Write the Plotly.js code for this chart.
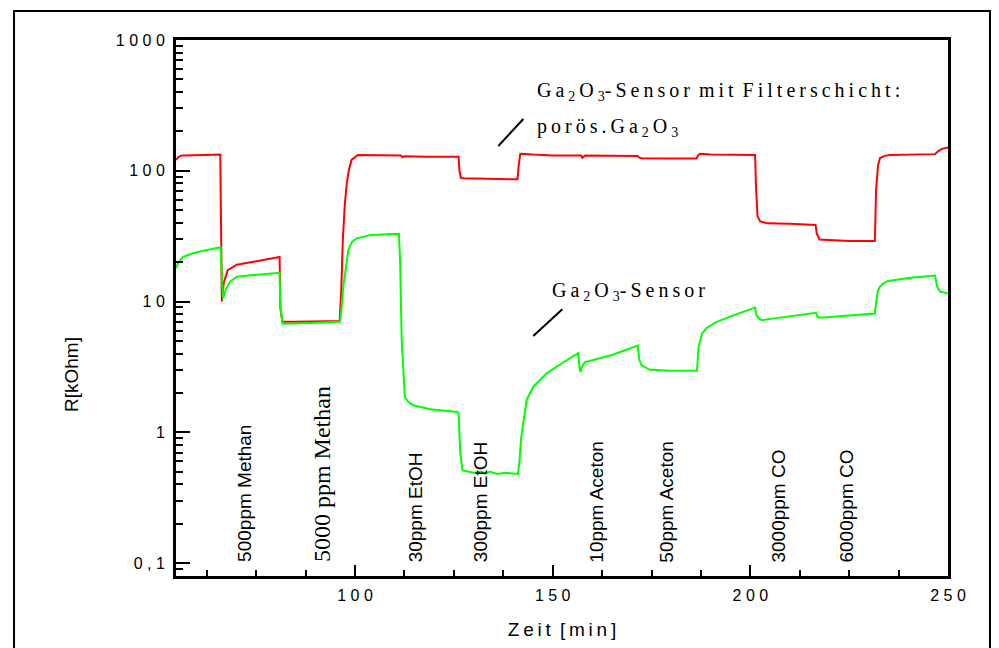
<!DOCTYPE html>
<html>
<head>
<meta charset="utf-8">
<script src="https://cdn.plot.ly/plotly-3.0.1.min.js"></script>
<style>html,body{margin:0;padding:0;background:#fff;}#chart{width:999px;height:648px;}</style>
</head>
<body>
<div id="chart"></div>
<script>
// Ga2O3 sensor with porous Ga2O3 filter layer (red)
const timeFilter = [54.7,55.3,56.2,58,62,65.9,66.1,66.3,66.8,67.8,70.1,75,80.9,81.1,81.6,85,90,96.1,96.5,96.9,97.4,97.9,98.4,99.1,100.7,105,111.6,112.0,112.4,118,126.2,126.4,126.8,127.5,134,141.1,141.4,141.8,145,150,157.2,157.5,158.2,165,171.5,171.9,172.5,180,186.4,186.7,187.2,190,195,201.2,201.4,201.8,202.5,204.2,210,216.5,216.8,217.5,225,231.5,231.8,232.3,232.8,234,235.3,240,246.7,247.5,248.5,250];
const resFilter = [121,127,131,131,132,133,40,10,14,17.4,19.1,20.2,21.9,9,7.0,7.0,7.05,7.1,12,29.5,55,80,100,121,132,132,131,127,129,128,128,100,88,87.5,87,86,110,135,133,131,131,126,131,130,129.5,126,124.5,124,124,130,135,133,132,132,80,45,41,39.6,39.3,38.5,33,29.8,29,29,71,110,125,130,132,133,134,141,147,151];

// plain Ga2O3 sensor (green)
const timeSensor = [54.7,55.2,56.5,59,62,66.0,66.2,66.6,67.3,68.4,70.1,75,80.9,81.1,81.7,85,90,96.2,96.6,97.0,97.5,98.3,99.2,100.4,104,111.1,111.4,111.8,112.6,113.5,114.7,119,125.8,126.2,126.6,127.2,130,132,133,134,136,138,141.2,141.6,142.0,142.6,143.4,145.1,148.5,152.3,156.4,156.7,157.0,157.6,158.2,165,171.5,171.9,172.5,174.6,180,186.5,186.9,187.8,189,191.1,195,201.2,201.6,202.3,203,204.2,210,216.6,216.9,217.4,225,231.5,232.0,232.3,232.8,233.5,234.6,240,246.7,247.0,247.3,248,250];
const resSensor = [18,19.5,22,23.4,24.6,26,18,10.6,12.3,14.2,15.5,16.0,16.6,9,6.75,6.8,6.9,7.0,9,13,16.5,24.8,28.5,30.4,32.3,33,20,5,1.86,1.7,1.61,1.5,1.43,1.4,0.7,0.51,0.49,0.50,0.48,0.50,0.48,0.49,0.48,0.6,0.9,1.17,1.77,2.23,2.82,3.37,4.03,3.3,2.9,3.25,3.44,3.9,4.6,3.6,3.25,3.0,2.95,2.95,4.5,5.7,6.3,6.9,7.7,9.0,7.8,7.35,7.2,7.3,7.7,8.2,7.7,7.5,7.8,8.1,10.9,12.2,13,13.6,14.3,15.1,15.8,14,12.9,11.9,11.5];

// axis ticks
const xTickVals = [100,150,200,250];
const xTickText = ['1\u00a00\u00a00','1\u00a05\u00a00','2\u00a00\u00a00','2\u00a05\u00a00'];
const yTickVals = [0.1,1,10,100,1000];
const yTickText = ['0\u00a0,\u00a01','1','1\u00a00','1\u00a00\u00a00','1\u00a00\u00a00\u00a00'];

// gas exposure labels
const gasLabels = ['500ppm Methan','5000 ppm Methan','30ppm EtOH','300ppm EtOH','10ppm Aceton','50ppm Aceton','3000ppm CO','6000ppm CO'];
const gasTimes = [72.2,91.6,115.2,131.6,161.2,178.9,207.2,224.4];

const SANS = 'Arial, "Liberation Sans", sans-serif';
const SERIF = '"Times New Roman", "Liberation Serif", serif';
const sp = s => s.split('').join('\u2009');

const traces = [
  {x: timeFilter, y: resFilter, type: 'scatter', mode: 'lines', name: 'Ga2O3-Sensor mit Filterschicht', line: {color: '#ff0000', width: 2}},
  {x: timeSensor, y: resSensor, type: 'scatter', mode: 'lines', name: 'Ga2O3-Sensor', line: {color: '#00ff00', width: 2}}
];

const annotations = gasLabels.map((t, i) => ({
  x: gasTimes[i], xref: 'x', y: 0.022, yref: 'paper',
  text: t, textangle: -90, showarrow: false,
  xanchor: 'center', yanchor: 'bottom',
  font: i === 1 ? {family: SERIF, size: 24, color: '#000'} : {family: SANS, size: 19, color: '#000'}
}));

annotations.push(
  {x: 0.465, y: 0.903, xref: 'paper', yref: 'paper', xanchor: 'left', yanchor: 'middle', showarrow: false,
   text: sp('Ga') + '\u2009<sub>2</sub>\u2009' + sp('O') + '\u2009<sub>3</sub>' + sp('-Sensor') + ' \u2009' + sp('mit') + ' \u2009' + sp('Filterschicht:'),
   font: {family: SERIF, size: 20, color: '#000'}},
  {x: 0.465, y: 0.837, xref: 'paper', yref: 'paper', xanchor: 'left', yanchor: 'middle', showarrow: false,
   text: sp('porös.Ga') + '\u2009<sub>2</sub>\u2009' + sp('O') + '\u2009<sub>3</sub>',
   font: {family: SERIF, size: 20, color: '#000'}},
  {x: 0.4845, y: 0.5317, xref: 'paper', yref: 'paper', xanchor: 'left', yanchor: 'middle', showarrow: false,
   text: sp('Ga') + '\u2009<sub>2</sub>\u2009' + sp('O') + '\u2009<sub>3</sub>' + sp('-Sensor'),
   font: {family: SERIF, size: 20, color: '#000'}},
  {x: -0.136, y: 0.375, xref: 'paper', yref: 'paper', xanchor: 'center', yanchor: 'middle', showarrow: false,
   text: 'R[kOhm]', textangle: -90, font: {family: SANS, size: 19, color: '#000'}}
);

const layout = {
  width: 999, height: 648,
  margin: {l: 176, r: 51, t: 40, b: 72, pad: 0},
  paper_bgcolor: '#fff', plot_bgcolor: '#fff',
  showlegend: false,
  font: {family: SANS, color: '#000'},
  xaxis: {
    range: [54.7, 250], showgrid: false, zeroline: false,
    showline: true, linecolor: '#000', linewidth: 3, mirror: true,
    ticks: 'inside', ticklen: 11, tickwidth: 2, tickcolor: '#000',
    tickmode: 'array', tickvals: xTickVals, ticktext: xTickText,
    tickfont: {family: SANS, size: 16, color: '#000'}, ticklabelstandoff: 3,
    minor: {ticks: 'inside', dtick: 12.5, tick0: 0, ticklen: 6, tickwidth: 2, tickcolor: '#000'},
    title: {text: sp('Zeit') + ' \u2009' + sp('[min]'), font: {family: SANS, size: 19, color: '#000'}, standoff: 20}
  },
  yaxis: {
    type: 'log', range: [-1.0994, 3], showgrid: false, zeroline: false,
    showline: true, linecolor: '#000', linewidth: 3, mirror: true,
    ticks: 'inside', ticklen: 14, tickwidth: 2, tickcolor: '#000',
    tickmode: 'array', tickvals: yTickVals, ticktext: yTickText,
    tickfont: {family: SANS, size: 16, color: '#000'}, ticklabelstandoff: 5,
    minor: {ticks: 'inside', dtick: 'D1', ticklen: 7, tickwidth: 2, tickcolor: '#000'}
  },
  annotations: annotations,
  shapes: [
    {type: 'rect', xref: 'paper', yref: 'paper', x0: -0.2098, x1: 1.0544, y0: -0.2, y1: 1.0541, line: {color: '#000', width: 2}},
    {type: 'line', xref: 'paper', yref: 'paper', x0: 0.4175, y0: 0.8022, x1: 0.4499, y1: 0.8526, line: {color: '#000', width: 2}},
    {type: 'line', xref: 'paper', yref: 'paper', x0: 0.4628, y0: 0.4478, x1: 0.5004, y1: 0.4976, line: {color: '#000', width: 2}}
  ]
};

Plotly.newPlot('chart', traces, layout, {displayModeBar: false});
</script>
</body>
</html>
